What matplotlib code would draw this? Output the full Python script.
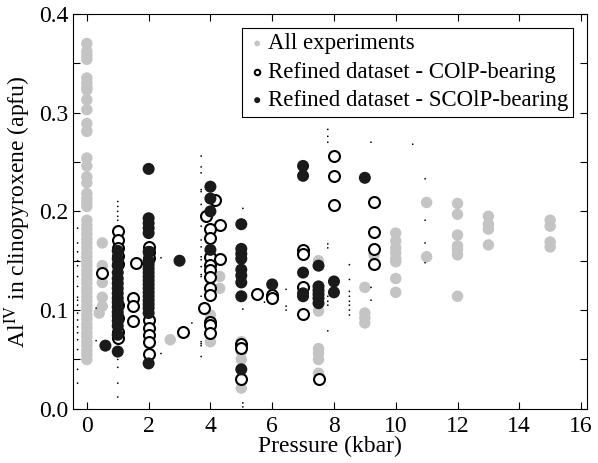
import matplotlib
matplotlib.use('Agg')
import matplotlib.pyplot as plt
from matplotlib.ticker import MultipleLocator

plt.rcParams['font.family'] = ['Liberation Serif', 'DejaVu Serif']
plt.rcParams['mathtext.fontset'] = 'stix'

# All experiments (grey)
all_p = ([0.0] * 52 + [0.5] * 5 + [0.4, 2.7, 4.3, 4.3, 4.0, 4.0] + [5.0] * 5 + [7.5] * 6
         + [9.3, 9.0, 9.0, 9.0, 9.0] + [10.0] * 8 + [11.0] * 2 + [12.0] * 7 + [13.0] * 4 + [15.0] * 4)
all_al = [0.370, 0.362, 0.358, 0.354, 0.335, 0.330, 0.326, 0.323, 0.313, 0.303, 0.289, 0.281,
          0.254, 0.246, 0.235, 0.229, 0.218, 0.213, 0.209, 0.205, 0.191, 0.186, 0.182, 0.177,
          0.172, 0.168, 0.163, 0.158, 0.154, 0.149, 0.145, 0.140, 0.136, 0.131, 0.127, 0.122,
          0.118, 0.113, 0.109, 0.104, 0.100, 0.095, 0.091, 0.086, 0.082, 0.077, 0.073, 0.068,
          0.064, 0.059, 0.055, 0.050,
          0.168, 0.145, 0.128, 0.113, 0.104,
          0.097, 0.070, 0.134, 0.122, 0.095, 0.068,
          0.068, 0.064, 0.058, 0.050, 0.021,
          0.150, 0.099, 0.061, 0.056, 0.050, 0.036,
          0.156, 0.123, 0.097, 0.092, 0.087,
          0.178, 0.170, 0.163, 0.158, 0.152, 0.149, 0.132, 0.118,
          0.209, 0.154,
          0.208, 0.197, 0.176, 0.165, 0.161, 0.156, 0.114,
          0.195, 0.187, 0.182, 0.166,
          0.191, 0.185, 0.169, 0.164]

# Refined dataset - COlP-bearing (open circles)
col_p = ([0.5] + [1.0] * 9 + [1.5] * 3 + [1.6] + [2.0] * 8 + [3.1]
         + [4.15, 3.85, 4.3, 4.0, 4.0, 4.0, 4.3, 4.0, 4.0, 4.0, 4.0, 4.0, 3.8, 4.0, 4.0, 4.0]
         + [5.0] * 3 + [5.5, 6.0, 6.0] + [7.0] * 4 + [7.5] + [8.0] * 3 + [9.3] * 4)
col_al = [0.138,
          0.180, 0.171, 0.163, 0.155, 0.147, 0.105, 0.092, 0.078, 0.072,
          0.112, 0.104, 0.089, 0.148,
          0.164, 0.159, 0.153, 0.090, 0.082, 0.075, 0.068, 0.056,
          0.078,
          0.212, 0.195, 0.186, 0.182, 0.173, 0.154, 0.152, 0.146, 0.141, 0.134, 0.122, 0.115,
          0.102, 0.088, 0.085, 0.077,
          0.066, 0.062, 0.030,
          0.116, 0.115, 0.112,
          0.161, 0.157, 0.123, 0.096,
          0.030,
          0.256, 0.236, 0.206,
          0.209, 0.179, 0.162, 0.147]

# Refined dataset - SCOlP-bearing (filled circles)
scol_p = ([0.6] + [1.0] * 17 + [2.0] * 21 + [3.0] + [4.0] * 4 + [5.0] * 9 + [6.0]
          + [7.0] * 5 + [7.5] * 6 + [8.0] * 2 + [9.0])
scol_al = [0.064,
           0.160, 0.152, 0.145, 0.138, 0.132, 0.127, 0.122, 0.117, 0.112, 0.108, 0.103, 0.098,
           0.094, 0.089, 0.084, 0.075, 0.058,
           0.243, 0.193, 0.188, 0.183, 0.178, 0.159, 0.150, 0.146, 0.142, 0.138, 0.134, 0.130,
           0.126, 0.122, 0.118, 0.114, 0.110, 0.106, 0.102, 0.097, 0.046,
           0.150,
           0.225, 0.213, 0.200, 0.161,
           0.187, 0.162, 0.157, 0.152, 0.141, 0.135, 0.128, 0.114, 0.040,
           0.126,
           0.246, 0.236, 0.138, 0.117, 0.114,
           0.145, 0.124, 0.120, 0.116, 0.112, 0.107,
           0.129, 0.118,
           0.234]

# small black dots (no legend entry)
dot_p = ([-0.3] * 18 + [0.3] * 2 + [1.0] * 10 + [2.4] * 2 + [3.4] + [3.7] * 21 + [5.05] * 4
         + [5.85, 5.75] + [6.45] * 3 + [7.8] * 9 + [8.5] * 8 + [9.2] * 4 + [10.55] + [10.95] * 4)
dot_al = [0.183, 0.168, 0.159, 0.150, 0.145, 0.134, 0.124, 0.113, 0.110, 0.105, 0.097, 0.090,
          0.083, 0.077, 0.070, 0.060, 0.040, 0.026,
          0.102, 0.069,
          0.210, 0.205, 0.200, 0.195, 0.191, 0.183, 0.050, 0.042, 0.026, 0.012,
          0.153, 0.056,
          0.087,
          0.256, 0.245, 0.239, 0.222, 0.220, 0.207, 0.196, 0.185, 0.171, 0.164, 0.154, 0.151,
          0.144, 0.136, 0.134, 0.114, 0.100, 0.068, 0.066, 0.064, 0.053,
          0.203, 0.101, 0.006, 0.002,
          0.115, 0.108,
          0.121, 0.104, 0.100,
          0.283, 0.276, 0.270, 0.167, 0.163, 0.114, 0.109, 0.105, 0.079,
          0.146, 0.131, 0.119, 0.114, 0.109, 0.105, 0.100, 0.095,
          0.297, 0.270, 0.123, 0.110,
          0.268,
          0.233, 0.191, 0.168, 0.148]

fig = plt.figure(figsize=(5.98, 4.63), dpi=100)
ax = fig.add_axes([0.122, 0.117, 0.860, 0.853])

ax.scatter(all_p, all_al, s=68, color='#c4c4c4', edgecolors='none', label='All experiments', zorder=2)
ax.scatter(dot_p, dot_al, s=1.5, color='black', edgecolors='none', zorder=3)
ax.scatter(col_p, col_al, s=62, facecolors='white', edgecolors='black', linewidths=1.5,
           label='Refined dataset - COlP-bearing', zorder=4)
ax.scatter(scol_p, scol_al, s=75, color='#1a1a1a', edgecolors='none',
           label='Refined dataset - SCOlP-bearing', zorder=5)

ax.set_xlim(-0.45, 16.2)
ax.set_ylim(0, 0.4)
ax.xaxis.set_major_locator(MultipleLocator(2))
ax.yaxis.set_major_locator(MultipleLocator(0.1))
ax.yaxis.set_minor_locator(MultipleLocator(0.05))
ax.yaxis.set_major_formatter(plt.FuncFormatter(lambda v, pos: f'{v:.1f}'))
ax.tick_params(which='both', direction='in', top=True, right=True, labelsize=17, length=5, width=0.8)
ax.tick_params(axis='x', pad=5)

ax.set_xlabel('Pressure (kbar)', fontsize=17, labelpad=-1)
ax.set_ylabel(r'Al$^{\mathrm{IV}}$ in clinopyroxene (apfu)', fontsize=17, labelpad=4)

leg = ax.legend(loc='upper right', fontsize=16.5, markerscale=0.5, handletextpad=0.05,
                handlelength=0.8, labelspacing=0.32, borderpad=0.25, borderaxespad=0.6,
                fancybox=False, edgecolor='black', framealpha=1)
leg.get_frame().set_linewidth(0.8)

fig.savefig('out.png', dpi=100)
